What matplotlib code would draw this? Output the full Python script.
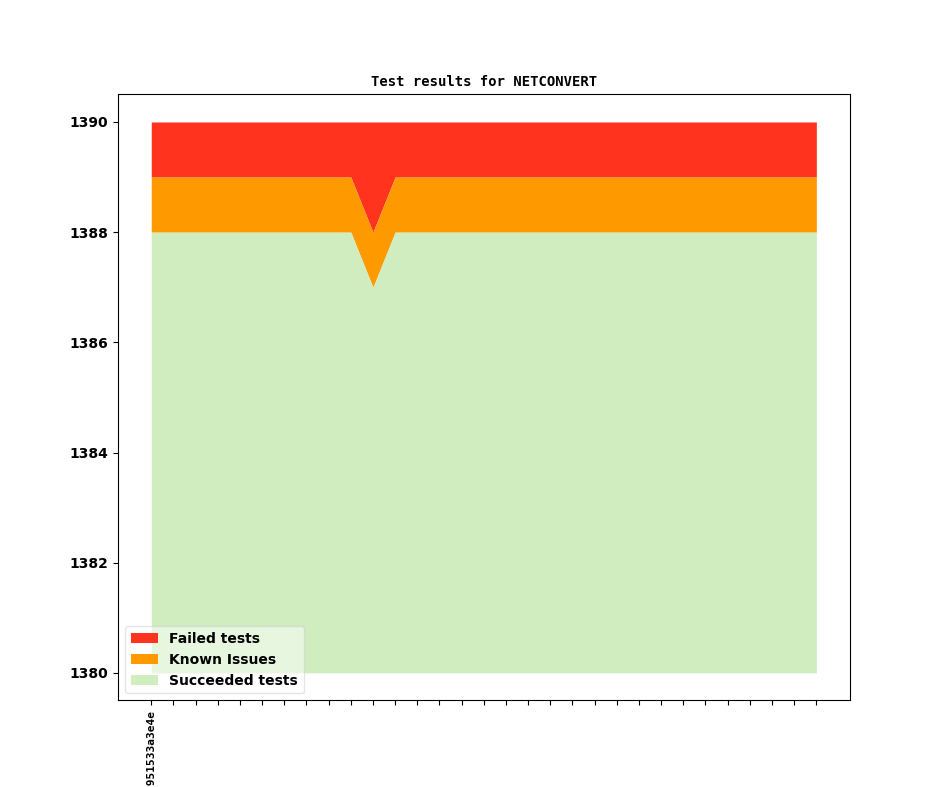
import numpy as np
from matplotlib import pyplot as plt

# one entry per build, oldest first
revisions = ["v1_19_0+0000-951533a3e4e"] + [""] * 30
succeeded = [1388] * 10 + [1387] + [1388] * 20
known_issues = [1] * 31
failed = [1] * 10 + [2] + [1] * 20
baseline = 1380

COLORS = {
    "failed": "#ff331e",
    "known": "#ff9900",
    "succeeded": "#cfedbf",
}

fig, ax = plt.subplots(figsize=(9.44, 7.87), dpi=100)

x = np.arange(len(succeeded))
ok = np.array(succeeded)
known_top = ok + np.array(known_issues)
failed_top = known_top + np.array(failed)

ax.fill_between(x, known_top, failed_top, color=COLORS["failed"], lw=0, label="Failed tests")
ax.fill_between(x, ok, known_top, color=COLORS["known"], lw=0, label="Known Issues")
ax.fill_between(x, baseline, ok, color=COLORS["succeeded"], lw=0, label="Succeeded tests")

ax.set_title("Test results for NETCONVERT", fontsize=10, fontweight="bold",
             family="DejaVu Sans Mono")
ax.set_xticks(x)
ax.set_xticklabels(revisions, rotation=90, fontsize=8, fontweight="bold",
                   family="DejaVu Sans Mono")
for lbl in ax.get_yticklabels():
    lbl.set_fontweight("bold")

ax.legend(loc="lower left", prop={"weight": "bold", "size": 10}, framealpha=0.5)

fig.savefig("out.png", dpi=100)
